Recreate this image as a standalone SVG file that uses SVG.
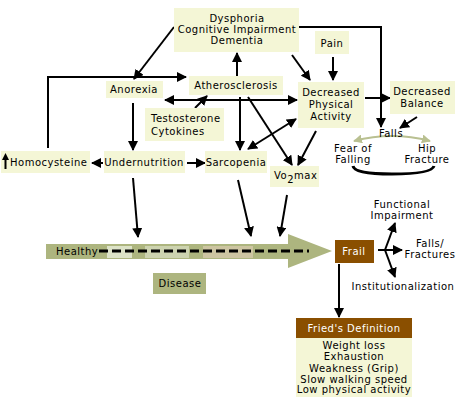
<svg xmlns="http://www.w3.org/2000/svg" width="460" height="400" viewBox="0 0 460 400">
<defs>
<marker id="ah" viewBox="0 0 10 10" refX="9" refY="5" markerWidth="10" markerHeight="10" markerUnits="userSpaceOnUse" orient="auto-start-reverse"><path d="M0,0 L10,5 L0,10 z" fill="#000"/></marker>
<marker id="gh" viewBox="0 0 10 10" refX="9" refY="5" markerWidth="9" markerHeight="9" markerUnits="userSpaceOnUse" orient="auto-start-reverse"><path d="M0,0 L10,5 L0,10 z" fill="#b9c091"/></marker>
<style>
.box{fill:#f4f6d6}
.olive{fill:#adb57f}
.brown{fill:#8a4f00}
text{font-family:"DejaVu Sans","Liberation Sans",sans-serif;font-size:10px;letter-spacing:0.5px;fill:#000}
.c{text-anchor:middle}
.w{fill:#fff}
.ln{stroke:#000;stroke-width:2;fill:none;marker-end:url(#ah)}
.dbl{marker-start:url(#ah)}
</style>
</defs>
<rect width="460" height="400" fill="#fff"/>

<g id="healthy-bar">
<path class="olive" d="M46,244 L288,244 L288,234 L332,251 L288,268 L288,259 L46,259 Z"/>
<rect x="107" y="246" width="25" height="12" fill="#dde3c8"/>
<rect x="145" y="246" width="44" height="12" fill="#cdd3b0"/>
<rect x="203" y="246" width="50" height="12" fill="#cdc5a2"/>
<line x1="99" y1="251" x2="309" y2="251" stroke="#000" stroke-width="3" stroke-dasharray="9 4"/>
<text x="56" y="255">Healthy</text>
</g>

<g id="connectors">
<path class="ln" d="M174,27 L134,79"/>
<path class="ln" d="M48,148 L48,77 L186,77"/>
<path class="ln" d="M237,76 L237,53"/>
<path class="ln" d="M299,27 L381,27 L381,127"/>
<path class="ln" d="M292,55 L310,80"/>
<path class="ln" d="M333,57 L333,80"/>
<path class="ln dbl" d="M165,100 L297,100"/>
<path class="ln" d="M195,108 L207,96"/>
<path class="ln" d="M133,103 L133,150"/>
<path class="ln" d="M103,163 L92,163"/>
<path class="ln" d="M187,163 L205,163"/>
<path class="ln" d="M240,97 L240,150"/>
<path class="ln" d="M248,97 L292,165"/>
<path class="ln dbl" d="M248,149 L296,119"/>
<path class="ln" d="M316,131 L298,165"/>
<path class="ln" d="M365,98 L390,98"/>
<path class="ln" d="M417,117 L400,128"/>
<path class="ln" d="M133,178 L138,237"/>
<path class="ln" d="M238,180 L251,236"/>
<path class="ln" d="M287,195 L280,236"/>
<path class="ln" d="M378,250 L402,250"/>
<path class="ln" d="M385,250 L395,223"/>
<path class="ln" d="M385,250 L395,277"/>
<path class="ln" d="M339,264 L339,317"/>
<path d="M354,141 Q392,131 430,141" stroke="#b9c091" stroke-width="2" fill="none" marker-start="url(#gh)" marker-end="url(#gh)"/>
<path d="M353,166 Q354,174 392,174 Q432,174 434,166" stroke="#000" stroke-width="3" fill="none"/>
</g>

<g id="dysphoria">
<rect class="box" x="174" y="8" width="125" height="44"/>
<text class="c" x="237" y="22">Dysphoria</text>
<text class="c" x="237" y="33">Cognitive Impairment</text>
<text class="c" x="237" y="44">Dementia</text>
</g>
<g id="pain">
<rect class="box" x="315" y="31" width="34" height="23"/>
<text class="c" x="332" y="47">Pain</text>
</g>
<g id="anorexia">
<rect class="box" x="106" y="81" width="57" height="17"/>
<text class="c" x="134" y="93">Anorexia</text>
</g>
<g id="atherosclerosis">
<rect class="box" x="189" y="76" width="94" height="19"/>
<text class="c" x="236" y="89">Atherosclerosis</text>
</g>
<g id="testosterone">
<rect class="box" x="145" y="108" width="79" height="33"/>
<text x="151" y="122">Testosterone</text>
<text x="151" y="135">Cytokines</text>
</g>
<g id="decreased-physical-activity">
<rect class="box" x="298" y="82" width="66" height="46"/>
<text class="c" x="331" y="96">Decreased</text>
<text class="c" x="331" y="108">Physical</text>
<text class="c" x="331" y="120">Activity</text>
</g>
<g id="decreased-balance">
<rect class="box" x="390" y="81" width="65" height="33"/>
<text class="c" x="422" y="95">Decreased</text>
<text class="c" x="422" y="107">Balance</text>
</g>
<g id="falls">
<text class="c" x="391" y="137">Falls</text>
</g>
<g id="fear-of-falling">
<text class="c" x="353" y="152">Fear of</text>
<text class="c" x="353" y="163">Falling</text>
</g>
<g id="hip-fracture">
<text class="c" x="427" y="152">Hip</text>
<text class="c" x="427" y="163">Fracture</text>
</g>
<g id="homocysteine">
<rect class="box" x="1" y="151" width="89" height="22"/>
<line x1="5.5" y1="169" x2="5.5" y2="159" stroke="#000" stroke-width="2"/>
<path d="M2,160 L5.5,153 L9,160 Z" fill="#000"/>
<text x="10" y="166">Homocysteine</text>
</g>
<g id="undernutrition">
<rect class="box" x="104" y="151" width="81" height="22"/>
<text class="c" x="144" y="166">Undernutrition</text>
</g>
<g id="sarcopenia">
<rect class="box" x="205" y="151" width="62" height="22"/>
<text class="c" x="236" y="166">Sarcopenia</text>
</g>
<g id="vo2max">
<rect class="box" x="270" y="166" width="49" height="21"/>
<text x="274" y="179">Vo<tspan dy="4">2</tspan><tspan dy="-4">max</tspan></text>
</g>
<g id="disease">
<rect class="olive" x="153" y="273" width="53" height="21"/>
<text class="c" x="180" y="287">Disease</text>
</g>
<g id="frail">
<rect class="brown" x="335" y="240" width="39" height="23"/>
<text class="c w" x="354" y="255">Frail</text>
</g>
<g id="functional-impairment">
<text class="c" x="402" y="208">Functional</text>
<text class="c" x="402" y="219">Impairment</text>
</g>
<g id="falls-fractures">
<text class="c" x="430" y="247">Falls/</text>
<text class="c" x="430" y="258">Fractures</text>
</g>
<g id="institutionalization">
<text class="c" x="403" y="290">Institutionalization</text>
</g>
<g id="frieds-definition">
<rect class="brown" x="296" y="318" width="116" height="20"/>
<rect class="box" x="296" y="338" width="116" height="59"/>
<text class="c w" x="354" y="332">Fried's Definition</text>
<text class="c" x="354" y="349">Weight loss</text>
<text class="c" x="354" y="360">Exhaustion</text>
<text class="c" x="354" y="372">Weakness (Grip)</text>
<text class="c" x="354" y="383">Slow walking speed</text>
<text class="c" x="354" y="393">Low physical activity</text>
</g>
</svg>
